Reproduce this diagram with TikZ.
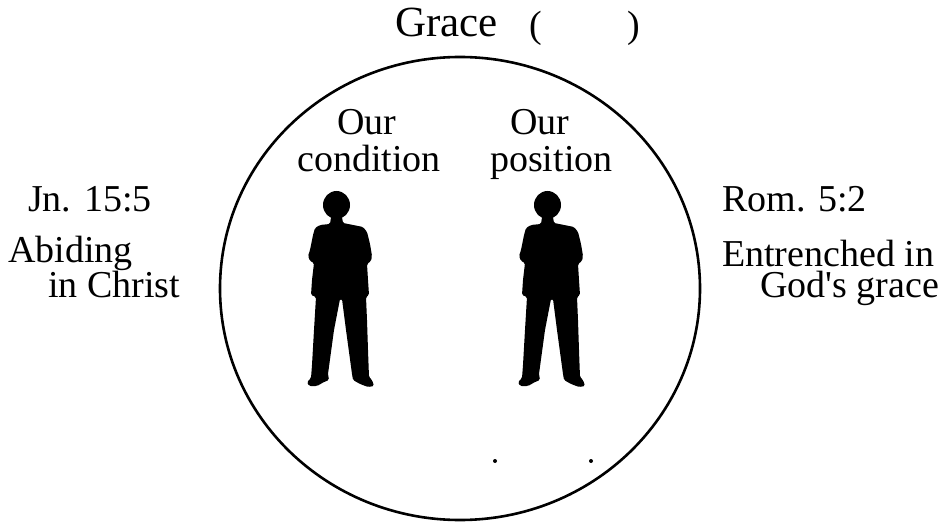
\documentclass[tikz,border=0pt]{standalone}
\usepackage{fontspec}
\setmainfont{Liberation Serif}
\begin{document}
\begin{tikzpicture}[x=1bp,y=-1bp,
  lbl/.style={inner sep=0pt, anchor=base west, font=\fontsize{38bp}{42bp}\selectfont},
  two/.style={inner sep=0pt, anchor=base west, align=left, font=\fontsize{38bp}{30.5bp}\selectfont},
  twor/.style={inner sep=0pt, anchor=base west, align=left, font=\fontsize{38bp}{31.5bp}\selectfont},
  ttl/.style={inner sep=0pt, anchor=base west, font=\fontsize{43bp}{46bp}\selectfont},
  ring/.style={line width=2.6bp},
  person/.pic={
    \fill (46.5,25) ellipse [x radius=13.5bp, y radius=14bp];
    \fill[rounded corners=1.5bp] (41,37) -- (40,44) -- (30,45) -- (25,48) -- (23,55) -- (20,70) -- (18,76) -- (20,81) -- (24,83)
      -- (22,100) -- (21,115) -- (26,117) -- (24,150) -- (22,185) -- (21,198) -- (17,202) -- (19,206) -- (27,206)
      -- (34,202) -- (39,200) -- (38,194) -- (44,150) -- (50,119) -- (52,119) -- (56,150) -- (62,194) -- (63,200)
      -- (70,204) -- (78,207) -- (84,206) -- (82,200) -- (79,197) -- (78,170) -- (77,140) -- (76,117) -- (79,115)
      -- (78,100) -- (77,84) -- (81,81) -- (82,76) -- (80,64) -- (77,52) -- (73,47) -- (63,45) -- (53,43) -- (52,37) -- cycle;
  }]
\useasboundingbox (0,0) rectangle (945,522);
\draw[ring] (460,288.5) ellipse [x radius=240bp, y radius=231.5bp];
\node[ttl] (grace) at (395,37) {Grace};
\node[lbl] (lp) at (529,38) {(};
\node[lbl] (rp) at (627,38) {)};
\node[lbl] (our1) at (337,135) {Our};
\node[lbl] (cond) at (297,172) {condition};
\node[lbl] (our2) at (510,135) {Our};
\node[lbl] (pos) at (490,172) {position};
\node[lbl] (jn) at (28,212) {Jn. 15:5};
\node[two] (abid) at (8,298) {Abiding\\\hspace*{40bp}in Christ};
\node[lbl] (rom) at (722,212) {Rom. 5:2};
\node[twor] (entr) at (722,298) {Entrenched in\\\hspace*{38bp}God\textquotesingle s grace};
\pic at (290,180) {person};
\pic at (501,180) {person};
\fill (495,461) circle [radius=2bp];
\fill (591,461) circle [radius=2bp];
\end{tikzpicture}
\end{document}
